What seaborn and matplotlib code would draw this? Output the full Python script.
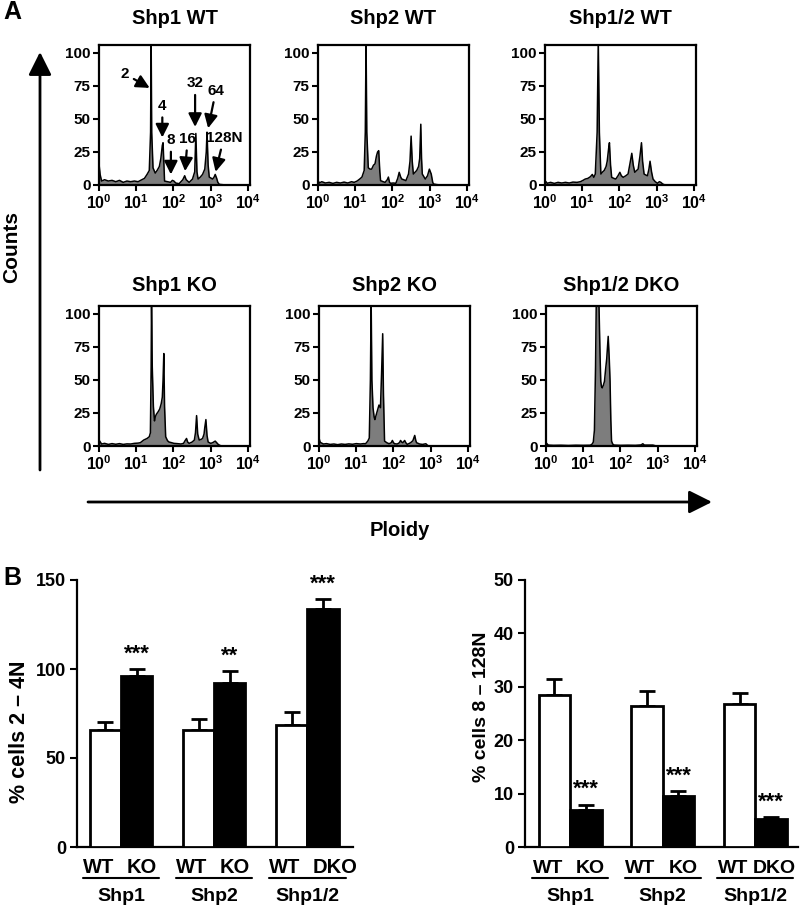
import numpy as np
import pandas as pd
import matplotlib
matplotlib.use("Agg")
import matplotlib.pyplot as plt
import seaborn as sns
from matplotlib.patches import FancyArrowPatch
from matplotlib.ticker import NullLocator
from matplotlib.transforms import blended_transform_factory as btf

# ---------------- data: histogram outlines (log10 ploidy, counts) ----------------
shp1_wt = [(0.00, 16), (0.03, 8), (0.07, 3), (0.15, 4), (0.25, 3), (0.35, 3.5), (0.45, 2.5),
           (0.55, 3.5), (0.65, 2), (0.75, 3), (0.85, 2.5), (0.95, 3), (1.05, 2.5), (1.15, 4),
           (1.22, 5), (1.29, 8), (1.35, 11), (1.385, 40), (1.40, 110), (1.415, 40), (1.45, 13),
           (1.51, 9), (1.56, 11), (1.62, 14), (1.66, 20), (1.70, 30), (1.72, 32), (1.76, 3),
           (1.84, 2.5), (1.92, 2), (1.97, 3.5), (2.01, 3), (2.06, 1.5), (2.15, 1), (2.25, 4),
           (2.30, 7), (2.34, 4), (2.42, 2), (2.51, 4.5), (2.57, 10), (2.60, 39), (2.63, 10),
           (2.66, 4.5), (2.72, 6), (2.78, 8), (2.84, 12), (2.88, 25), (2.90, 40), (2.93, 15),
           (2.96, 6), (3.05, 4.5), (3.09, 6), (3.12, 8), (3.16, 5), (3.19, 2), (3.23, 0.5), (3.40, 0)]
shp2_wt = [(0.00, 3.3), (0.04, 1.5), (0.10, 2.5), (0.20, 1.5), (0.30, 2), (0.40, 1.2), (0.50, 2),
           (0.60, 1.5), (0.70, 2.2), (0.80, 1.5), (0.90, 2.5), (0.97, 2), (1.05, 3), (1.12, 4.5),
           (1.18, 6), (1.24, 11), (1.27, 40), (1.29, 110), (1.31, 40), (1.35, 13), (1.40, 12),
           (1.44, 12), (1.49, 15), (1.53, 16), (1.57, 22), (1.60, 25), (1.63, 26), (1.66, 10),
           (1.68, 3.3), (1.75, 2.5), (1.80, 2), (1.86, 4), (1.89, 6), (1.92, 2), (1.95, 1.3),
           (2.02, 1.5), (2.09, 1.3), (2.14, 5), (2.18, 9.6), (2.22, 6), (2.25, 4.5), (2.30, 4),
           (2.36, 3.3), (2.43, 8.3), (2.47, 18), (2.50, 37), (2.53, 18), (2.56, 8.3), (2.65, 11),
           (2.70, 14), (2.73, 20), (2.76, 46), (2.78, 20), (2.80, 8.3), (2.88, 4.5), (2.94, 7),
           (2.99, 12), (3.04, 8.3), (3.08, 2), (3.10, 0.8), (3.19, 0.3), (3.30, 0)]
shp12_wt = [(0.00, 3.3), (0.06, 1.3), (0.15, 2), (0.25, 1.2), (0.35, 2), (0.45, 1.5), (0.55, 2),
            (0.65, 1.5), (0.75, 2.2), (0.86, 2), (0.95, 2.5), (1.02, 3.5), (1.08, 4.5), (1.15, 5),
            (1.22, 6.3), (1.27, 8), (1.31, 5.8), (1.35, 8.3), (1.40, 40), (1.43, 110), (1.46, 40),
            (1.50, 8.3), (1.55, 10), (1.59, 11), (1.64, 14), (1.67, 18), (1.71, 28), (1.73, 32),
            (1.76, 15), (1.79, 5.8), (1.85, 5), (1.90, 4.5), (1.96, 7), (2.01, 9.6), (2.05, 7),
            (2.10, 5.8), (2.17, 7), (2.23, 8.3), (2.28, 16), (2.33, 24), (2.37, 15), (2.41, 9.6),
            (2.46, 11), (2.50, 12), (2.55, 22), (2.59, 32), (2.62, 18), (2.66, 8.3), (2.71, 7.5),
            (2.75, 7), (2.79, 12), (2.82, 18), (2.86, 10), (2.90, 4.5), (2.96, 2.5), (3.02, 1.3),
            (3.07, 2.5), (3.11, 2), (3.15, 1), (3.19, 0.3), (3.30, 0)]
shp1_ko = [(0.00, 4.5), (0.07, 1.5), (0.15, 2), (0.25, 1.2), (0.35, 1.8), (0.45, 1.3), (0.55, 1.8),
           (0.65, 1.2), (0.75, 1.6), (0.85, 1.5), (0.95, 2), (1.05, 2.2), (1.11, 2.5), (1.20, 4.5),
           (1.29, 5.7), (1.35, 7), (1.38, 10), (1.40, 60), (1.41, 110), (1.43, 60), (1.46, 30),
           (1.49, 19), (1.51, 22), (1.54, 24), (1.59, 26), (1.63, 28), (1.67, 32), (1.70, 37),
           (1.72, 50), (1.74, 70), (1.76, 30), (1.79, 7), (1.84, 4), (1.88, 3), (1.95, 2.5),
           (2.01, 2), (2.10, 1.8), (2.20, 1.5), (2.27, 2), (2.31, 4), (2.35, 5.7), (2.38, 3),
           (2.42, 2), (2.50, 3), (2.56, 4.5), (2.59, 10), (2.62, 23), (2.65, 9), (2.69, 4.5),
           (2.74, 5), (2.78, 5.7), (2.82, 9), (2.84, 14), (2.87, 20), (2.90, 8), (2.93, 3),
           (3.00, 2), (3.05, 2.5), (3.12, 3.7), (3.16, 2.5), (3.19, 1.5), (3.24, 0.5), (3.30, 0)]
shp2_ko = [(0.00, 6), (0.03, 3), (0.05, 2.5), (0.12, 1.5), (0.20, 1.8), (0.30, 1.2), (0.40, 1.5),
           (0.50, 1), (0.60, 1.5), (0.70, 1.2), (0.80, 1.6), (0.90, 1.3), (1.00, 1.8), (1.11, 1.5),
           (1.20, 1.8), (1.25, 1.7), (1.31, 3.7), (1.35, 6), (1.38, 50), (1.40, 110), (1.42, 50),
           (1.45, 29), (1.48, 22), (1.50, 20), (1.54, 24), (1.58, 28), (1.61, 31), (1.65, 29),
           (1.68, 55), (1.71, 85), (1.73, 40), (1.76, 3.7), (1.82, 2.5), (1.88, 1.7), (1.94, 2.5),
           (1.97, 4.2), (2.00, 2.5), (2.03, 1.7), (2.10, 1.5), (2.16, 2.5), (2.19, 4.2), (2.22, 3),
           (2.25, 2.5), (2.30, 4.2), (2.33, 2.5), (2.37, 1.2), (2.46, 2.5), (2.52, 4), (2.57, 8),
           (2.60, 4), (2.62, 2.5), (2.70, 1.5), (2.78, 1.2), (2.87, 1.7), (2.92, 0.3), (3.00, 0)]
shp12_dko = [(0.00, 2.5), (0.06, 0.7), (0.20, 0.5), (0.40, 0.6), (0.60, 0.4), (0.80, 0.6),
             (1.00, 0.5), (1.19, 0.6), (1.24, 1.5), (1.27, 3), (1.30, 12), (1.33, 60), (1.35, 110),
             (1.42, 110), (1.45, 70), (1.47, 49), (1.49, 45), (1.51, 44), (1.54, 46), (1.57, 49),
             (1.60, 58), (1.63, 66), (1.67, 83), (1.70, 65), (1.72, 49), (1.74, 20), (1.76, 3.7),
             (1.79, 1.5), (1.83, 0.7), (2.00, 0.5), (2.20, 0.6), (2.40, 0.5), (2.55, 0.8),
             (2.60, 1.7), (2.64, 0.7), (2.87, 0.7), (2.96, 0), (3.20, 0)]

hist_titles = ["Shp1 WT", "Shp2 WT", "Shp1/2 WT", "Shp1 KO", "Shp2 KO", "Shp1/2 DKO"]
hist_data = [shp1_wt, shp2_wt, shp12_wt, shp1_ko, shp2_ko, shp12_dko]
hist_yticks = [0, 25, 50, 75, 100]
hist_xticks = [1, 10, 100, 1000, 10000]
hist_xlabels = [r"$10^{0}$", r"$10^{1}$", r"$10^{2}$", r"$10^{3}$", r"$10^{4}$"]

# peak annotations on Shp1 WT: label, text (log10 x, count), tip (log10 x, count)
peak_labels = ["2", "4", "8", "16", "32", "64", "128N"]
peak_text = [(0.70, 84), (1.70, 60), (1.93, 34), (2.38, 35), (2.58, 77), (3.14, 71.5), (3.35, 35.6)]
peak_tip = [(1.36, 73.5), (1.70, 36), (1.93, 8), (2.31, 10.5), (2.58, 44), (2.93, 43), (3.13, 10)]

# ---------------- data: bar charts ----------------
groups = ["Shp1", "Shp2", "Shp1/2"]
mut_labels = ["KO", "KO", "DKO"]
low_wt_mean = [66.0, 66.0, 68.8]
low_wt_err = [4.0, 5.8, 7.3]
low_mut_mean = [96.0, 92.3, 133.7]
low_mut_err = [3.8, 6.3, 5.6]
low_stars = ["***", "**", "***"]
high_wt_mean = [28.4, 26.4, 26.75]
high_wt_err = [3.0, 2.8, 2.15]
high_mut_mean = [7.0, 9.5, 5.2]
high_mut_err = [0.9, 0.9, 0.4]
high_stars = ["***", "***", "***"]

# ---------------- style ----------------
sns.set_theme(style="white")
plt.rcParams.update({
    "font.family": ["Liberation Sans", "DejaVu Sans"],
    "font.weight": "bold",
    "axes.labelweight": "bold",
    "axes.titleweight": "bold",
    "mathtext.fontset": "custom",
    "mathtext.rm": "Liberation Sans:bold",
    "mathtext.it": "Liberation Sans:bold",
    "mathtext.bf": "Liberation Sans:bold",
    "axes.edgecolor": "black",
    "text.color": "black",
    "axes.labelcolor": "black",
    "xtick.color": "black",
    "ytick.color": "black",
})

W, H = 800, 910
fig = plt.figure(figsize=(8, 9.1), dpi=100)
fig.patch.set_facecolor("white")


def px_axes(l, t, r, b):
    return fig.add_axes([l / W, 1 - b / H, (r - l) / W, (b - t) / H])


hist_boxes = [(99, 45, 250, 185), (318, 45, 469, 185), (545, 45, 696, 185),
              (99, 306, 250, 446), (319, 306, 470, 446), (546, 306, 697, 446)]

hist_axes = []
for i, (box, pts, title) in enumerate(zip(hist_boxes, hist_data, hist_titles)):
    ax = px_axes(*box)
    lx = np.array([p[0] for p in pts])
    ct = np.array([p[1] for p in pts])
    xv = 10 ** lx
    ax.fill_between(xv, ct, 0, color="#7d7d7d", lw=0, zorder=1)
    sns.lineplot(x=xv, y=ct, ax=ax, color="black", lw=1.1, estimator=None, sort=False, zorder=2)
    ax.set_xscale("log")
    ax.set_xlim(1, 10 ** 4.054)
    ax.set_ylim(0, 106)
    ax.set_xticks(hist_xticks)
    ax.set_xticklabels(hist_xlabels)
    ax.xaxis.set_minor_locator(NullLocator())
    ax.set_yticks(hist_yticks)
    ax.tick_params(axis="both", which="major", direction="out", length=4, width=1.5,
                   pad=2, bottom=True, left=True)
    ax.tick_params(axis="y", labelsize=11)
    ax.tick_params(axis="x", labelsize=11.5)
    for s in ax.spines.values():
        s.set_linewidth(1.6)
        s.set_color("black")
    ax.set_xlabel("")
    ax.set_ylabel("")
    ax.set_title(title, fontsize=14.5, pad=15 if i < 3 else 11)
    hist_axes.append(ax)

ax0 = hist_axes[0]
for lab, (tx, ty), (px, py) in zip(peak_labels, peak_text, peak_tip):
    ax0.annotate(lab, xy=(10 ** px, py), xytext=(10 ** tx, ty), ha="center", va="center",
                 fontsize=11, fontweight="bold",
                 arrowprops=dict(arrowstyle="-|>,head_length=0.5,head_width=0.25", color="black",
                                 lw=1.6, mutation_scale=16, shrinkA=1, shrinkB=0))

# big axis arrows and labels
fig.add_artist(FancyArrowPatch((40 / W, 1 - 470 / H), (40 / W, 1 - 52 / H),
                               transform=fig.transFigure,
                               arrowstyle="-|>,head_length=0.7,head_width=0.35",
                               mutation_scale=20, lw=2, color="black", shrinkA=0, shrinkB=0))
fig.add_artist(FancyArrowPatch((88 / W, 1 - 502 / H), (712 / W, 1 - 502 / H),
                               transform=fig.transFigure,
                               arrowstyle="-|>,head_length=0.7,head_width=0.35",
                               mutation_scale=20, lw=2, color="black", shrinkA=0, shrinkB=0))
fig.text(12 / W, 1 - 247 / H, "Counts", rotation=90, ha="center", va="center", fontsize=15)
fig.text(400 / W, 1 - 530 / H, "Ploidy", ha="center", va="center", fontsize=14.5)
fig.text(12 / W, 1 - 12 / H, "A", ha="center", va="center", fontsize=18)
fig.text(12 / W, 1 - 578 / H, "B", ha="center", va="center", fontsize=18)


def bar_panel(ax, mwt, ewt, mmut, emut, stars, ylim, yticks, width, xlim, ylabel, lab_xy,
              lab_fs, tick_fs, mut_offsets):
    df = pd.DataFrame({"group": groups * 2,
                       "kind": ["WT"] * 3 + ["mut"] * 3,
                       "value": mwt + mmut})
    sns.barplot(data=df, x="group", y="value", hue="kind", hue_order=["WT", "mut"],
                order=groups, palette={"WT": "white", "mut": "black"}, edgecolor="black",
                linewidth=2, width=width, saturation=1, errorbar=None, legend=False,
                ax=ax, zorder=3)
    cwt = [b.get_x() + b.get_width() / 2 for b in ax.containers[0]]
    cmut = [b.get_x() + b.get_width() / 2 for b in ax.containers[1]]
    ax.errorbar(cwt, mwt, yerr=[np.zeros(3), ewt], fmt="none", ecolor="black",
                elinewidth=2, capsize=6, capthick=2, zorder=2)
    ax.errorbar(cmut, mmut, yerr=[np.zeros(3), emut], fmt="none", ecolor="black",
                elinewidth=2, capsize=6, capthick=2, zorder=2)
    for c, m, e, s in zip(cmut, mmut, emut, stars):
        ax.annotate(s, xy=(c, m + e), xytext=(0, 7), textcoords="offset points",
                    ha="center", va="baseline", fontsize=16, annotation_clip=False)
    ax.set_xticks([])
    ax.set_xlim(*xlim)
    ax.set_ylim(*ylim)
    ax.set_yticks(yticks)
    ax.tick_params(axis="y", direction="out", length=5, width=1.5, labelsize=13,
                   pad=3, left=True)
    sns.despine(ax=ax)
    for s in ["left", "bottom"]:
        ax.spines[s].set_linewidth(1.6)
        ax.spines[s].set_color("black")
    ax.set_xlabel("")
    ax.set_ylabel(ylabel, fontsize=lab_fs)
    ax.yaxis.set_label_coords(*lab_xy)
    tr = btf(ax.transData, ax.transAxes)
    for i, g in enumerate(groups):
        gc = (cwt[i] + cmut[i]) / 2
        ax.annotate("WT", xy=(gc, 0), xycoords=tr, xytext=(-5, -18.5), textcoords="offset points",
                    ha="right", va="baseline", fontsize=tick_fs, annotation_clip=False)
        ax.annotate(mut_labels[i], xy=(gc, 0), xycoords=tr, xytext=(mut_offsets[i], -18.5),
                    textcoords="offset points", ha="left", va="baseline", fontsize=tick_fs,
                    annotation_clip=False)
        ax.plot([gc - 0.41, gc + 0.41], [-0.116, -0.116], transform=tr, clip_on=False,
                color="black", lw=1.5)
        ax.text(gc, -0.187, g, transform=tr, ha="center", va="center", fontsize=14)


axL = px_axes(77, 580, 353, 847)
bar_panel(axL, low_wt_mean, low_wt_err, low_mut_mean, low_mut_err, low_stars,
          (0, 150), [0, 50, 100, 150], 0.67, (-0.473, 2.49), "% cells 2 – 4N",
          (-0.17, 0.43), 15.5, 14.5, [4, 4, 4])
axR = px_axes(525, 580, 798, 847)
bar_panel(axR, high_wt_mean, high_wt_err, high_mut_mean, high_mut_err, high_stars,
          (0, 50), [0, 10, 20, 30, 40, 50], 0.68, (-0.486, 2.46), "% cells 8 – 128N",
          (-0.128, 0.524), 14, 14, [4, 4, -2])

fig.savefig("out.png", dpi=100, facecolor="white")
